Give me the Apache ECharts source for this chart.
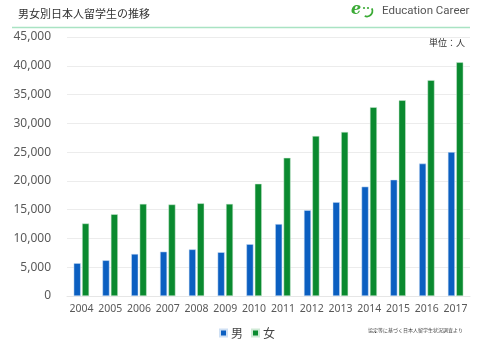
<!DOCTYPE html>
<html><head><meta charset="utf-8">
<script src="https://cdn.jsdelivr.net/npm/echarts@6/dist/echarts.min.js"></script>
<style>html,body{margin:0;padding:0;background:#fff}#c{width:480px;height:346px}</style>
</head><body><div id="c"></div>
<script>
var years = ['2004','2005','2006','2007','2008','2009','2010','2011','2012','2013','2014','2015','2016','2017'];
var male = [5700,6200,7300,7700,8100,7600,9000,12500,14900,16300,19000,20200,23000,25000];
var female = [12600,14200,16000,15900,16100,16000,19500,24000,27800,28500,32800,34000,37500,40600];
var seriesNames = ['男','女'];
var titleText = '男女別日本人留学生の推移';
var unitText = '単位：人';
var sourceText = '協定等に基づく日本人留学生状況調査より';
var brandText = 'Education Career';

var chart = echarts.init(document.getElementById('c'), null, {renderer:'canvas'});
var jp = '"Noto Sans CJK JP", "Noto Sans", sans-serif';
var g = '#3aaa35';
chart.setOption({
  animation:false,
  textStyle:{fontFamily:jp},
  graphic:[
    {type:'text', left:18, top:8, style:{text:titleText, fontSize:11, fill:'#333', fontFamily:jp}},
    {type:'line', shape:{x1:12,y1:27.5,x2:470,y2:27.5}, style:{stroke:'#a9e3c3', lineWidth:1.5}},
    {type:'text', left:351, top:2, style:{text:'e', fontSize:16, fontStyle:'italic', fontWeight:'bold', fill:g, fontFamily:'"DejaVu Serif", serif'}},
    {type:'circle', shape:{cx:364,cy:8,r:1.1}, style:{fill:g}},
    {type:'circle', shape:{cx:368,cy:8,r:1.1}, style:{fill:g}},
    {type:'arc', shape:{cx:367,cy:11,r:5.5,startAngle:-0.5,endAngle:2.0}, style:{stroke:g, lineWidth:1.8, fill:null}},
    {type:'text', left:382, top:5, style:{text:brandText, fontSize:11.5, fill:'#555', fontFamily:'Roboto, sans-serif'}},
    {type:'text', right:15, top:38, style:{text:unitText, fontSize:9, fill:'#333', fontFamily:jp}},
    {type:'text', left:368, top:328, style:{text:sourceText, fontSize:5, fill:'#444', fontFamily:jp}}
  ],
  legend:{
    data:seriesNames, left:214, top:322, icon:'rect', itemWidth:7, itemHeight:7, itemGap:8,
    textStyle:{fontSize:12, color:'#444', fontFamily:jp, padding:[0,0,0,-1]}
  },
  grid:{left:67, right:10, top:37, bottom:50, containLabel:false},
  xAxis:{
    type:'category', data:years,
    axisLine:{lineStyle:{color:'#e6e6e6'}}, axisTick:{show:false},
    axisLabel:{color:'#595959', fontSize:10.5, margin:8, interval:0, fontFamily:'"Noto Sans", sans-serif'}
  },
  yAxis:{
    type:'value', min:0, max:45000, interval:5000,
    axisLine:{show:false}, axisTick:{show:false},
    splitLine:{lineStyle:{color:'#ececec'}},
    axisLabel:{color:'#595959', fontSize:12, margin:16, fontFamily:'"Noto Sans", sans-serif',
      formatter:function(v){return v.toLocaleString('en-US');}}
  },
  series:[
    {name:seriesNames[0], type:'bar', data:male, barWidth:7, barGap:'20%',
     itemStyle:{color:'#0b5fc1', borderColor:'#cfe0f4', borderWidth:0.5}},
    {name:seriesNames[1], type:'bar', data:female, barWidth:7,
     itemStyle:{color:'#0a8a2f', borderColor:'#cfead6', borderWidth:0.5}}
  ]
});
</script></body></html>
